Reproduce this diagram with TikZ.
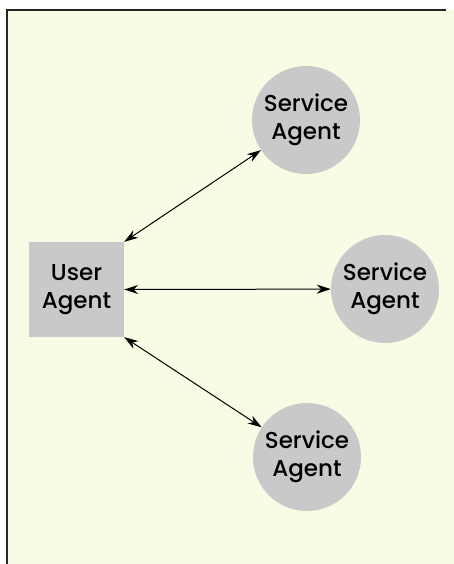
\documentclass[tikz,border=0pt]{standalone}
\usepackage{fontspec}
\setmainfont{Poppins}[UprightFont=* Medium]
\usetikzlibrary{arrows.meta}
\definecolor{bgyellow}{RGB}{249,251,228}
\definecolor{nodegray}{RGB}{200,201,201}
\tikzset{
  useragent/.style={rectangle, fill=nodegray, minimum width=95pt, minimum height=95pt, inner sep=0pt, align=center, font=\fontsize{23}{28}\selectfont},
  serviceagent/.style={circle, fill=nodegray, minimum size=108pt, inner sep=0pt, align=center, font=\fontsize{23}{28}\selectfont},
  link/.style={line width=1pt, {Stealth[length=14pt,width=9pt]}-{Stealth[length=14pt,width=9pt]}},
  frameline/.style={line width=1.2pt, draw=black!85}
}
\begin{document}
\begin{tikzpicture}[x=1pt,y=-1pt]
\useasboundingbox (0,0) rectangle (454,564);
\fill[bgyellow] (7,10) rectangle (454,564);
\coordinate (fl) at (7,564);
\coordinate (ftl) at (7,10);
\coordinate (ftr) at (446,10);
\draw[frameline] (fl) -- (ftl) -- (ftr);
\node[useragent] (ua) at (76.5,289.5) {User\\Agent};
\node[serviceagent] (s1) at (306,120) {Service\\Agent};
\node[serviceagent] (s2) at (385,289) {Service\\Agent};
\node[serviceagent] (s3) at (307,457) {Service\\Agent};
\draw[link] (ua.north east) -- (s1);
\draw[link] (ua.east) -- (s2);
\draw[link] (ua.south east) -- (s3);
\end{tikzpicture}
\end{document}
